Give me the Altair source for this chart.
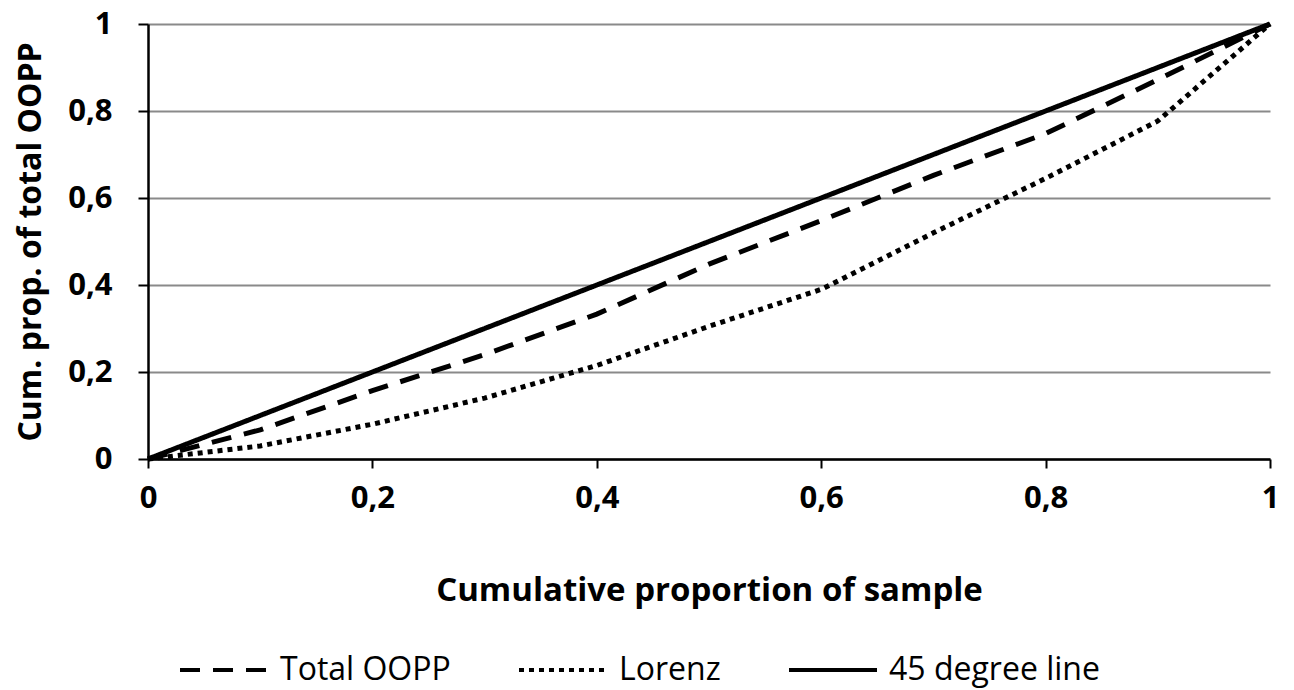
import altair as alt
import pandas as pd

# Cumulative proportion of sample (x) and the three series (y)
share_sample = [0.0, 0.1, 0.2, 0.3, 0.4, 0.5, 0.6, 0.7, 0.8, 0.9, 1.0]
total_oopp = [0.0, 0.067, 0.157, 0.240, 0.333, 0.448, 0.548, 0.652, 0.748, 0.872, 1.0]
lorenz = [0.0, 0.030, 0.080, 0.140, 0.215, 0.305, 0.390, 0.520, 0.645, 0.777, 1.0]
equality = [0.0, 0.1, 0.2, 0.3, 0.4, 0.5, 0.6, 0.7, 0.8, 0.9, 1.0]

series_names = ["Total OOPP", "Lorenz", "45 degree line"]
tick_values = [0.0, 0.2, 0.4, 0.6, 0.8, 1.0]

rows = []
for name, vals in zip(series_names, [total_oopp, lorenz, equality]):
    for xv, yv in zip(share_sample, vals):
        rows.append({"series": name, "x": xv, "y": yv})
df = pd.DataFrame(rows)

label_expr = "replace(format(datum.value, '.1~f'), '.', ',')"
FONT = "Open Sans"

chart = alt.Chart(df).mark_line(color="black", strokeWidth=5).encode(
    x=alt.X(
        "x:Q",
        scale=alt.Scale(domain=[0, 1], nice=False),
        axis=alt.Axis(
            values=tick_values,
            labelExpr=label_expr,
            grid=False,
            domainColor="black",
            domainWidth=2.5,
            tickColor="black",
            tickWidth=2,
            tickSize=9,
            labelPadding=15,
            labelFont=FONT,
            labelFontSize=31,
            labelFontWeight="bold",
            labelColor="black",
            labelFlush=False,
            title="Cumulative proportion of sample",
            titleFont=FONT,
            titleFontSize=33,
            titleFontWeight="bold",
            titleColor="black",
            titlePadding=61,
        ),
    ),
    y=alt.Y(
        "y:Q",
        scale=alt.Scale(domain=[0, 1], nice=False),
        axis=alt.Axis(
            values=tick_values,
            labelExpr=label_expr,
            grid=True,
            gridColor="#8a8a8a",
            gridWidth=2,
            domainColor="black",
            domainWidth=2.5,
            tickColor="black",
            tickWidth=2,
            tickSize=10,
            labelPadding=26,
            labelFont=FONT,
            labelFontSize=31,
            labelFontWeight="bold",
            labelColor="black",
            title="Cum. prop. of total OOPP",
            titleFont=FONT,
            titleFontSize=32,
            titleFontWeight="bold",
            titleColor="black",
            titlePadding=20,
        ),
    ),
    strokeDash=alt.StrokeDash(
        "series:N",
        scale=alt.Scale(domain=series_names, range=[[20, 13], [5, 5], [1, 0]]),
        legend=alt.Legend(
            title=None,
            orient="none",
            legendX=30,
            legendY=600,
            direction="horizontal",
            symbolType="stroke",
            symbolSize=7744,
            symbolStrokeWidth=4,
            symbolStrokeColor="black",
            labelFont=FONT,
            labelFontSize=32,
            labelColor="black",
            labelOffset=10,
            labelLimit=400,
            columnPadding=60,
            padding=0,
        ),
    ),
    order=alt.Order("x:Q"),
).properties(
    width=1122,
    height=435,
    padding={"left": 140, "top": 16, "right": 16, "bottom": 231},
    autosize=alt.AutoSizeParams(type="none"),
).configure_view(stroke=None)

chart.save("out.html", embed_options={"renderer": "svg", "actions": False})
